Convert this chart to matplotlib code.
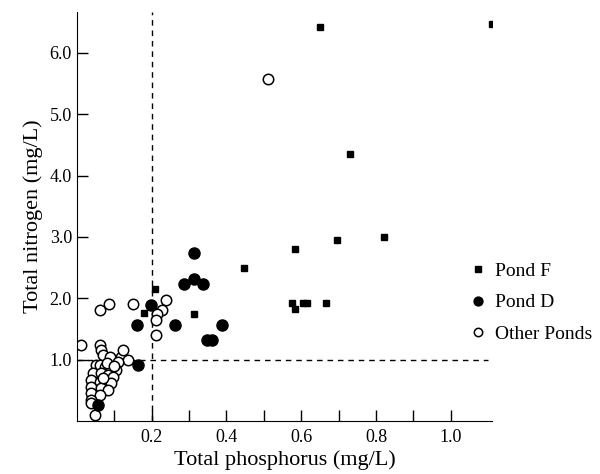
import matplotlib
matplotlib.use('Agg')
import matplotlib.pyplot as plt

plt.rcParams['font.family'] = ['Liberation Serif', 'DejaVu Serif']

# Pond F (squares)
pond_f_p = [1.11, 0.65, 0.73, 0.82, 0.695, 0.583, 0.447, 0.208, 0.18, 0.313,
            0.575, 0.583, 0.604, 0.615, 0.666]
pond_f_n = [6.47, 6.42, 4.35, 3.0, 2.95, 2.80, 2.50, 2.15, 1.76, 1.74,
            1.92, 1.82, 1.92, 1.92, 1.92]

# Pond D (filled circles)
pond_d_p = [0.313, 0.286, 0.313, 0.337, 0.198, 0.162, 0.262, 0.388, 0.348, 0.361,
            0.163, 0.058]
pond_d_n = [2.74, 2.23, 2.31, 2.23, 1.89, 1.56, 1.56, 1.56, 1.32, 1.32,
            0.91, 0.26]

# Other ponds (open circles)
other_p = [0.51, 0.061, 0.086, 0.15, 0.238, 0.227, 0.214, 0.211, 0.211,
           0.011, 0.061, 0.064, 0.07, 0.088, 0.118, 0.123, 0.136, 0.11,
           0.051, 0.061, 0.075, 0.091, 0.104, 0.043, 0.064, 0.083, 0.096,
           0.037, 0.061, 0.075, 0.091, 0.037, 0.064, 0.083, 0.037, 0.061,
           0.037, 0.037, 0.048, 0.07, 0.08, 0.10]
other_n = [5.57, 1.81, 1.90, 1.90, 1.97, 1.81, 1.74, 1.65, 1.40,
           1.24, 1.24, 1.16, 1.07, 1.04, 1.04, 1.16, 1.0, 0.96,
           0.91, 0.91, 0.88, 0.86, 0.83, 0.78, 0.78, 0.75, 0.72,
           0.67, 0.64, 0.62, 0.62, 0.55, 0.54, 0.50, 0.45, 0.42,
           0.34, 0.29, 0.10, 0.70, 0.95, 0.90]

x_ticks = [0.1, 0.2, 0.3, 0.4, 0.5, 0.6, 0.7, 0.8, 0.9, 1.0]
x_labels = ['', '0.2', '', '0.4', '', '0.6', '', '0.8', '', '1.0']
y_ticks = [1, 2, 3, 4, 5, 6]
y_labels = ['1.0', '2.0', '3.0', '4.0', '5.0', '6.0']

fig = plt.figure(figsize=(6, 4.74), dpi=100)
ax = fig.add_axes([0.128, 0.112, 0.692, 0.863])

# threshold lines
ax.axvline(0.2, color='black', lw=1, ls=(0, (4, 3.5)), zorder=1)
ax.axhline(1.0, xmin=0, xmax=0.99, color='black', lw=1, ls=(0, (4, 3.5)), zorder=1)

ax.plot(pond_f_p, pond_f_n, ls='none', marker='s', ms=5, color='black',
        label='Pond F', zorder=3)
ax.plot(pond_d_p, pond_d_n, ls='none', marker='o', ms=8, color='black',
        label='Pond D', zorder=3)
ax.plot(other_p, other_n, ls='none', marker='o', ms=7.5, mfc='white',
        mec='black', mew=1.1, label='Other Ponds', zorder=2)

ax.set_xlim(0, 1.11)
ax.set_ylim(0, 6.67)
ax.spines['top'].set_visible(False)
ax.spines['right'].set_visible(False)
ax.set_xticks(x_ticks)
ax.set_xticklabels(x_labels)
ax.set_yticks(y_ticks)
ax.set_yticklabels(y_labels)
ax.tick_params(direction='in', length=8, width=1, labelsize=13)
ax.tick_params(axis='x', pad=6)
ax.set_xlabel('Total phosphorus (mg/L)', fontsize=16, labelpad=3)
ax.set_ylabel('Total nitrogen (mg/L)', fontsize=16, labelpad=5)

leg = ax.legend(loc='upper left', bbox_to_anchor=(0.91, 0.43), frameon=False,
                fontsize=14, handlelength=0.6, handletextpad=0.6,
                labelspacing=0.7, markerscale=0.8)

fig.savefig('out.png', dpi=100)
